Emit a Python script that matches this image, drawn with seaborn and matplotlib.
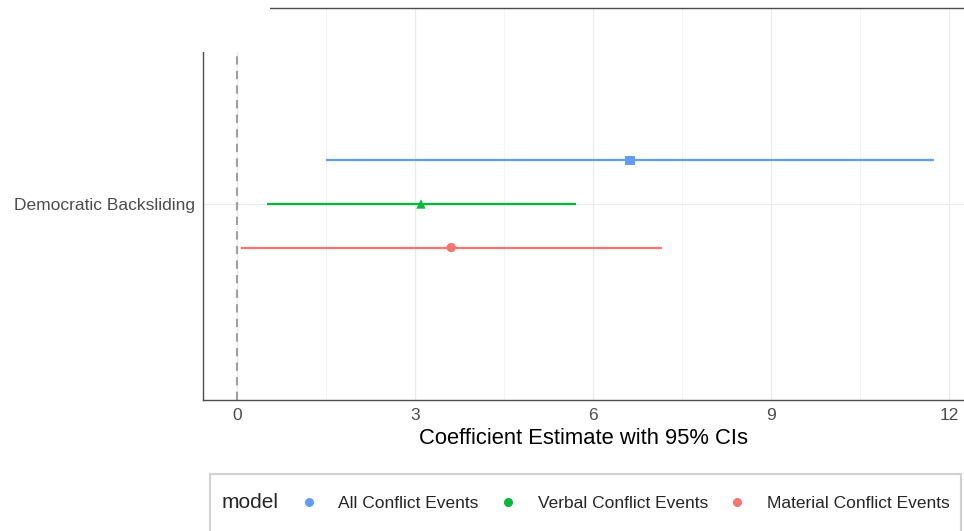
import matplotlib
matplotlib.use("Agg")
import matplotlib.pyplot as plt
from matplotlib.lines import Line2D
from matplotlib.patches import Rectangle
import pandas as pd
import seaborn as sns

# model results
models = ["All Conflict Events", "Verbal Conflict Events", "Material Conflict Events"]
estimates = [6.62, 3.10, 3.61]
lower = [1.50, 0.51, 0.07]
upper = [11.75, 5.71, 7.16]
term = "Democratic Backsliding"
xticks = [0, 3, 6, 9, 12]

colors = {"All Conflict Events": "#619CFF",
          "Verbal Conflict Events": "#00BA38",
          "Material Conflict Events": "#F8766D"}
markers = {"All Conflict Events": "s",
           "Verbal Conflict Events": "^",
           "Material Conflict Events": "o"}

df = pd.DataFrame({"model": models, "estimate": estimates,
                   "lower": lower, "upper": upper})
# dodge of width 0.4 around the single term
dodge = 0.4 / 3
df["y"] = [dodge, 0.0, -dodge]

sns.set_style("white")
plt.rcParams["font.family"] = ["Liberation Sans", "DejaVu Sans"]

W, H = 964, 531
fig = plt.figure(figsize=(W / 100, H / 100), dpi=100)
ax = fig.add_axes([203 / W, 1 - 400 / H, 1 - 203 / W, 392 / H])

ax.set_xlim(-0.573, 12.25)
ax.set_ylim(-0.6, 0.6)

# grid
for v in [1.5, 4.5, 7.5, 10.5]:
    ax.axvline(v, color="#F2F2F2", lw=0.6, zorder=0)
for v in xticks:
    ax.axvline(v, color="#EBEBEB", lw=0.9, zorder=0)
ax.axhline(0, color="#EBEBEB", lw=0.9, zorder=0)

ax.axvline(0, color="#A0A0A0", lw=1.5, ls=(0, (4, 3)), zorder=1)

ax.hlines(df["y"], df["lower"], df["upper"],
          colors=[colors[m] for m in df["model"]], lw=1.6, zorder=2)
sns.scatterplot(data=df, x="estimate", y="y", hue="model", style="model",
                palette=colors, markers=markers, s=45, edgecolor="none",
                legend=False, ax=ax, zorder=3)

ax.set_xticks(xticks)
ax.set_xticklabels([str(t) for t in xticks])
ax.set_yticks([0])
ax.set_yticklabels([term])
ax.tick_params(axis="both", colors="#333333", labelcolor="#4D4D4D",
               labelsize=12.5, length=4, width=1, direction="out", pad=2)
ax.set_xlabel("Coefficient Estimate with 95% CIs", fontsize=15.8,
              color="black", labelpad=3)
ax.set_ylabel("")

for side in ["left", "bottom", "top"]:
    ax.spines[side].set_visible(True)
    ax.spines[side].set_color("#4D4D4D")
    ax.spines[side].set_linewidth(1.0)
ax.spines["right"].set_visible(False)

# overlapping blank area at the top-left of the screenshot
fig.patches.append(Rectangle((0, 1 - 52 / H), 270 / W, 52 / H,
                             transform=fig.transFigure, facecolor="white",
                             edgecolor="none", zorder=5))

# legend box at the bottom, partly cut off
fig.patches.append(Rectangle((210 / W, -0.05), (961 - 210) / W, 0.05 + 57 / H,
                             transform=fig.transFigure, facecolor="white",
                             edgecolor="#D0D0D0", lw=1.5, zorder=5))
fig.text(222 / W, 1 - 503 / H, "model", fontsize=15, va="center", ha="left",
         zorder=6)
handles = [Line2D([], [], ls="none", marker="o", ms=5.5, color=colors[m])
           for m in models]
leg = fig.legend(handles, models, ncol=3, loc="center left",
                 bbox_to_anchor=(300 / W, 1 - 503 / H), frameon=False,
                 fontsize=12.5, handlelength=1.0, handletextpad=1.2,
                 columnspacing=1.2, borderpad=0, borderaxespad=0)
leg.set_zorder(7)

fig.savefig("out.png", dpi=100)
